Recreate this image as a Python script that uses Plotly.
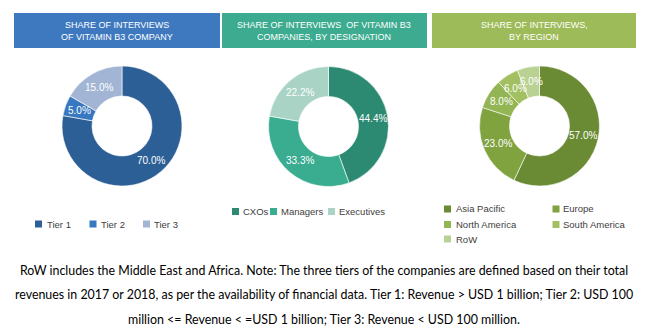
import math
import plotly.graph_objects as go

W, H = 648, 333

# ---- data ----
header_lines = [
    ["SHARE OF INTERVIEWS", "OF VITAMIN B3 COMPANY"],
    ["SHARE OF INTERVIEWS  OF VITAMIN B3", "COMPANIES, BY DESIGNATION"],
    ["SHARE OF INTERVIEWS,", "BY REGION"],
]
tier_labels = ["Tier 1", "Tier 2", "Tier 3"]
tier_values = [70.0, 5.0, 15.0]
designation_labels = ["CXOs", "Managers", "Executives"]
designation_values = [44.4, 33.3, 22.2]
region_labels = ["Asia Pacific", "Europe", "North America", "South America", "RoW"]
region_values = [57.0, 23.0, 8.0, 6.0, 6.0]
footnote_lines = [
    "RoW includes the Middle East and Africa. Note: The three tiers of the companies are defined based on their total",
    "revenues in 2017 or 2018, as per the availability of financial data. Tier 1: Revenue > USD 1 billion; Tier 2: USD 100",
    "million <= Revenue < =USD 1 billion; Tier 3: Revenue < USD 100 million.",
]

# ---- styles ----
header_colors = ["#3e79bf", "#3cab8f", "#9dbb58"]
tier_colors = ["#2c5f95", "#3878c0", "#a3b5d4"]
designation_colors = ["#2d8a72", "#3aac90", "#a9d3c5"]
region_colors = ["#6a8b34", "#80a23f", "#93b553", "#a2c062", "#b9d192"]


def px(x):
    return x / W


def py(y):
    return 1 - y / H


fig = go.Figure()
shapes = []
annotations = []

donuts = [
    (tier_labels, tier_values, tier_colors, 122, 126),
    (designation_labels, designation_values, designation_colors, 328.5, 126.5),
    (region_labels, region_values, region_colors, 539.5, 126),
]
R = 60
HOLE = 0.5
for labels, values, colors, cx, cy in donuts:
    fig.add_trace(go.Pie(
        labels=labels, values=values, hole=HOLE, sort=False,
        direction="clockwise", rotation=0,
        domain=dict(x=[px(cx - R), px(cx + R)], y=[py(cy + R), py(cy - R)]),
        marker=dict(colors=colors, line=dict(color="white", width=0.6)),
        textposition="none", texttemplate="%{value:.1f}%",
        showlegend=False, hoverinfo="label+value",
    ))
    # value labels centred on the middle of each ring segment
    total = sum(values)
    cum = 0.0
    rm = R * (1 + HOLE) / 2
    for v in values:
        mid = (cum + v / 2) / total * 2 * math.pi
        cum += v
        lx = cx + rm * math.sin(mid)
        ly = cy - rm * math.cos(mid)
        annotations.append(dict(x=px(lx), y=py(ly), xref="paper", yref="paper",
                                text=f"{v:.1f}%", showarrow=False,
                                xanchor="center", yanchor="middle",
                                font=dict(family="Liberation Sans", size=10, color="white")))

# header boxes
boxes = [(14, 220), (222, 427), (432, 636)]
for (x0, x1), lines, col in zip(boxes, header_lines, header_colors):
    shapes.append(dict(type="rect", xref="paper", yref="paper",
                       x0=px(x0), x1=px(x1), y0=py(48), y1=py(13),
                       fillcolor=col, line=dict(width=0), layer="below"))
    for ly, txt in zip([25, 36.5], lines):
        annotations.append(dict(x=px((x0 + x1) / 2), y=py(ly), xref="paper", yref="paper",
                                text=txt, showarrow=False, xanchor="center", yanchor="middle",
                                font=dict(family="Liberation Sans", size=9, color="white")))

# legends (marker center x, text x, y)
legend_pos = [
    [(38.5, 45, 224), (93, 99, 224), (146.5, 152, 224)],
    [(235.5, 241, 211.5), (273.5, 279, 211.5), (331.5, 337, 211.5)],
    [(447.5, 454, 209), (556, 561, 209), (447.5, 454, 224.5), (556, 561, 224.5), (447.5, 454, 239)],
]
legend_sets = [
    (tier_labels, tier_colors),
    (designation_labels, designation_colors),
    (region_labels, region_colors),
]
for (labels, colors), poss in zip(legend_sets, legend_pos):
    for lab, col, (mx, tx, ly) in zip(labels, colors, poss):
        shapes.append(dict(type="rect", xref="paper", yref="paper",
                           x0=px(mx - 3.5), x1=px(mx + 3.5), y0=py(ly + 3.5), y1=py(ly - 3.5),
                           fillcolor=col, line=dict(width=0)))
        annotations.append(dict(x=px(tx), y=py(ly), xref="paper", yref="paper", text=lab,
                                showarrow=False, xanchor="left", yanchor="middle",
                                font=dict(family="Liberation Sans", size=9.5, color="#404040")))

# footnote
for ly, txt in zip([270, 294.5, 319], footnote_lines):
    annotations.append(dict(x=0.5, y=py(ly), xref="paper", yref="paper", text=txt,
                            showarrow=False, xanchor="center", yanchor="middle",
                            font=dict(family="Lato", size=12.4, color="#000000")))

fig.update_layout(
    width=W, height=H, margin=dict(l=0, r=0, t=0, b=0),
    paper_bgcolor="white", plot_bgcolor="white",
    shapes=shapes, annotations=annotations,
    showlegend=False,
)

fig.write_html("out.html")
